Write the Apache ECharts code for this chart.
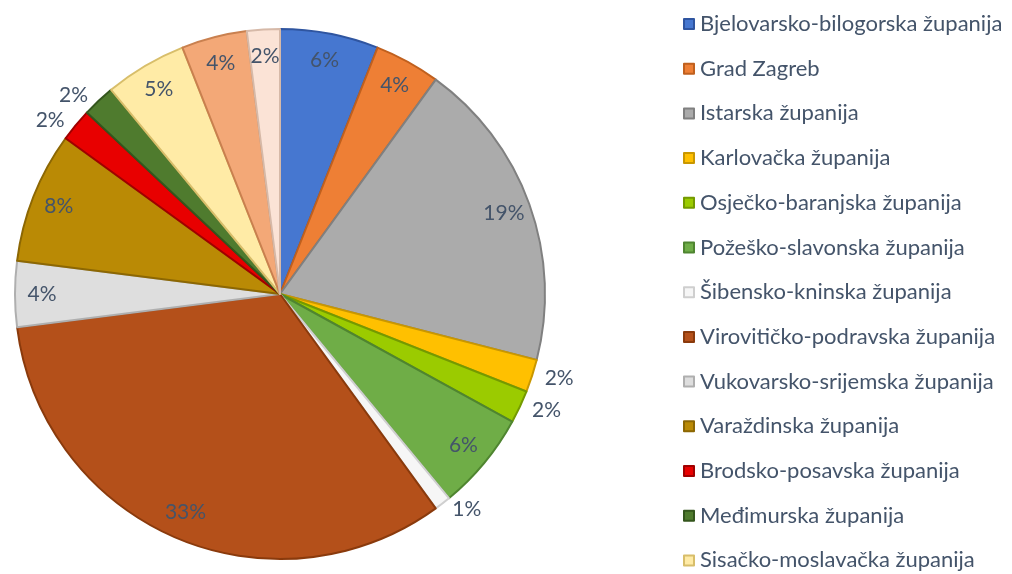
<!DOCTYPE html>
<html>
<head>
<meta charset="utf-8">
<script src="https://cdn.jsdelivr.net/npm/echarts@6/dist/echarts.min.js"></script>
<style>
  html, body { margin: 0; padding: 0; background: #fff; }
  #chart { width: 1012px; height: 574px; }
</style>
</head>
<body>
<div id="chart"></div>
<script>
// counties, clockwise from 12 o'clock
const counties = [
  'Bjelovarsko-bilogorska županija',
  'Grad Zagreb',
  'Istarska županija',
  'Karlovačka županija',
  'Osječko-baranjska županija',
  'Požeško-slavonska županija',
  'Šibensko-kninska županija',
  'Virovitičko-podravska županija',
  'Vukovarsko-srijemska županija',
  'Varaždinska županija',
  'Brodsko-posavska županija',
  'Međimurska županija',
  'Sisačko-moslavačka županija',
  'Zagrebačka županija',
  'Primorsko-goranska županija'
];
// share in percent
const shares = [6, 4, 19, 2, 2, 6, 1, 33, 4, 8, 2, 2, 5, 4, 2];
const colors = ['#4677D0', '#EE7F35', '#ABABAB', '#FFC000', '#9BCB00', '#6FAD47',
  '#F6F6F6', '#B4501A', '#DEDEDE', '#BA8A05', '#E80000', '#4F7B2E',
  '#FFEBA6', '#F3A877', '#FBE3D6'];
const borders = ['#2F55A0', '#C0601E', '#808080', '#C99700', '#749A00', '#4F8530',
  '#CFCFCF', '#8A3A0C', '#AFAFAF', '#8C6703', '#A00000', '#34561D',
  '#D8BE6A', '#C9804F', '#D6B9A8'];
// labels drawn outside the pie
const outsideLabels = [3, 4, 6, 10, 11];
// legend only shows the first 13 (the rest fall off the picture)
const legendNames = counties.slice(0, 13);

const chart = echarts.init(document.getElementById('chart'));

const center = [280, 294];
const textColor = '#44546A';
const font = 'Lato, "Open Sans", sans-serif';

const mainData = counties.map((n, i) => ({
  name: n,
  value: shares[i],
  itemStyle: {
    color: colors[i],
    borderColor: borders[i],
    borderWidth: 2
  }
}));

const labelData = counties.map((n, i) => {
  const out = outsideLabels.indexOf(i) >= 0;
  return {
    name: n,
    value: shares[i],
    label: { position: out ? 'outside' : 'inside' },
    labelLine: { show: false, length: out ? 8 : 0, length2: 0 }
  };
});

const option = {
  backgroundColor: '#fff',
  animation: false,
  color: colors,
  legend: {
    orient: 'vertical',
    left: 683,
    top: 12,
    padding: 0,
    itemGap: 20.7,
    itemWidth: 10,
    itemHeight: 10,
    icon: 'rect',
    data: legendNames,
    textStyle: {
      color: textColor,
      fontSize: 22,
      lineHeight: 24,
      fontFamily: font,
      padding: [0, 0, 0, 1]
    }
  },
  series: [
    {
      type: 'pie',
      center: center,
      radius: 265,
      startAngle: 90,
      silent: true,
      label: { show: false },
      labelLine: { show: false },
      data: mainData
    },
    {
      type: 'pie',
      center: center,
      radius: [205, 265],
      startAngle: 90,
      silent: true,
      avoidLabelOverlap: false,
      itemStyle: { color: 'rgba(0,0,0,0)', borderWidth: 0 },
      label: {
        show: true,
        formatter: '{c}%',
        color: textColor,
        fontSize: 21,
        fontFamily: font
      },
      data: labelData
    }
  ]
};

chart.setOption(option);
</script>
</body>
</html>
